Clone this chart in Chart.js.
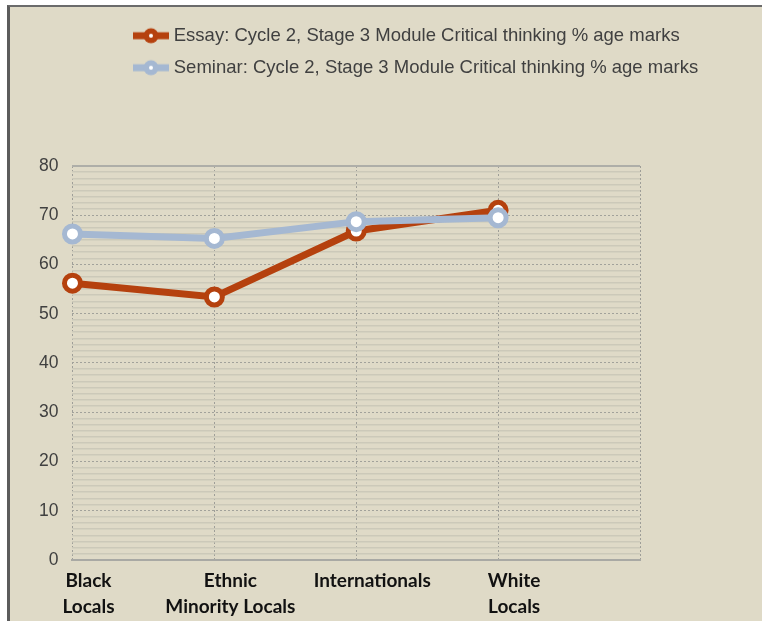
<!DOCTYPE html>
<html>
<head>
<meta charset="utf-8">
<script src="https://cdn.jsdelivr.net/npm/chart.js@4"></script>
<style>
  html, body { margin: 0; padding: 0; background: #fff; }
  #frame {
    position: absolute; left: 7px; top: 5px;
    width: 752px; height: 614px;
    border-left: 3px solid #5c5c5c; border-top: 2px solid #6b6b6b;
    background: #dfdac7;
  }
  canvas { display: block; }
</style>
</head>
<body>
<div id="frame"><canvas id="chart" width="752" height="614"></canvas></div>
<script>
  // categories (last slot is empty, as in the original sheet)
  const categories = [['Black', 'Locals'], ['Ethnic', 'Minority Locals'], 'Internationals', ['White', 'Locals'], ''];
  const essayMarks = [56.2, 53.4, 66.8, 71.0];
  const seminarMarks = [66.2, 65.3, 68.7, 69.5];
  const seriesNames = [
    'Essay: Cycle 2, Stage 3 Module Critical thinking % age marks',
    'Seminar: Cycle 2, Stage 3 Module Critical thinking % age marks'
  ];
  const yTickLabels = [0, 10, 20, 30, 40, 50, 60, 70, 80];

  const essayColor = '#b5410e';
  const seminarColor = '#a5b8d2';

  // legend icon: a short thick line with a ringed marker in the middle
  function legendIcon(color) {
    const c = document.createElement('canvas');
    c.width = 36; c.height = 18;
    const g = c.getContext('2d');
    g.strokeStyle = color; g.lineWidth = 7;
    g.beginPath(); g.moveTo(0, 9); g.lineTo(36, 9); g.stroke();
    g.fillStyle = color;
    g.beginPath(); g.arc(18, 9, 7.5, 0, Math.PI * 2); g.fill();
    g.fillStyle = '#fff';
    g.beginPath(); g.arc(18, 9, 2, 0, Math.PI * 2); g.fill();
    return c;
  }
  const icons = [legendIcon(essayColor), legendIcon(seminarColor)];

  // extra room under the legend, and rows pushed right like the original
  const legendTweak = {
    id: 'legendTweak',
    beforeInit(chart) {
      const lg = chart.legend;
      const fit = lg.fit;
      lg.fit = function () {
        fit.bind(lg)();
        this.height += 79;
      };
      const draw = lg.draw;
      lg.draw = function () {
        const ctx = chart.ctx;
        ctx.save();
        ctx.translate(99, 0);
        draw.bind(lg)();
        ctx.restore();
      };
    }
  };

  new Chart(document.getElementById('chart'), {
    type: 'line',
    data: {
      labels: categories,
      datasets: [
        {
          label: seriesNames[0],
          data: essayMarks,
          borderColor: essayColor,
          backgroundColor: '#fff',
          pointBorderColor: essayColor,
          pointBackgroundColor: '#fff',
          borderWidth: 7,
          pointRadius: 8,
          pointBorderWidth: 5,
          pointHoverRadius: 8,
          tension: 0,
          order: 1
        },
        {
          label: seriesNames[1],
          data: seminarMarks,
          borderColor: seminarColor,
          backgroundColor: '#fff',
          pointBorderColor: seminarColor,
          pointBackgroundColor: '#fff',
          borderWidth: 7,
          pointRadius: 8,
          pointBorderWidth: 5,
          pointHoverRadius: 8,
          tension: 0,
          order: 0
        }
      ]
    },
    options: {
      responsive: false,
      animation: false,
      devicePixelRatio: 1,
      layout: { padding: { top: 6, left: 15, right: 122, bottom: -7 } },
      plugins: {
        tooltip: { enabled: false },
        legend: {
          position: 'top',
          align: 'start',
          labels: {
            usePointStyle: true,
            pointStyleWidth: 27,
            boxHeight: 18.5,
            padding: 13.5,
            color: '#404040',
            font: { family: '"Liberation Sans", Arial, sans-serif', size: 18.5 },
            generateLabels(chart) {
              return chart.data.datasets.map((ds, i) => ({
                text: ds.label,
                pointStyle: icons[i],
                fillStyle: ds.borderColor,
                strokeStyle: ds.borderColor,
                lineWidth: 0,
                fontColor: '#404040',
                hidden: false,
                datasetIndex: i
              }));
            }
          }
        }
      },
      scales: {
        x: {
          type: 'category',
          offset: false,
          grid: {
            drawTicks: false,
            color: '#9e9e98',
            lineWidth: 1
          },
          border: {
            display: true,
            color: '#a9a9a4',
            width: 2,
            dash: (c) => c.type === 'tick' ? [2, 2] : []
          },
          ticks: {
            autoSkip: false,
            maxRotation: 0,
            padding: 8,
            labelOffset: 16,
            color: '#111',
            font: { family: 'Lato, "Open Sans", sans-serif', size: 19, weight: 'bold', lineHeight: 1.37 }
          }
        },
        y: {
          min: 0,
          max: 80,
          grid: {
            drawTicks: false,
            color: (c) => {
              const v = c.tick ? c.tick.value : 0;
              if (v === 0 || v === 80) return '#aeaea8';
              if (v % 10 === 0) return '#a2a29b';
              return '#ccc9b9';
            },
            lineWidth: (c) => {
              const v = c.tick ? c.tick.value : 0;
              if (v === 0 || v === 80) return 2;
              if (v % 10 === 0) return 1;
              return 1.6;
            }
          },
          border: {
            display: false,
            dash: (c) => {
              if (c.type !== 'tick') return [];
              const v = c.tick.value;
              return (v % 10 === 0 && v !== 0 && v !== 80) ? [2, 2] : [];
            }
          },
          ticks: {
            stepSize: 1.25,
            autoSkip: false,
            padding: 14,
            color: '#404040',
            font: { family: '"Liberation Sans", Arial, sans-serif', size: 17.5 },
            callback: (v) => yTickLabels.includes(v) ? String(v) : ''
          }
        }
      }
    },
    plugins: [legendTweak]
  });
</script>
</body>
</html>
